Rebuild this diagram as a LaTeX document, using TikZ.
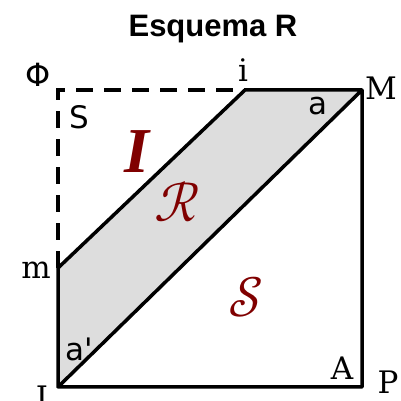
\documentclass[tikz,border=0pt]{standalone}
\usepackage{fontspec}
\setmainfont{DejaVu Serif}
\newfontfamily\ttlfont{Liberation Sans}
\newfontfamily\lblsans{DejaVu Sans}
\newfontfamily\timesfont{Liberation Serif}
\usepackage{unicode-math}
\setmathfont{Latin Modern Math}
\definecolor{darkred}{HTML}{800000}
\definecolor{fillgray}{HTML}{DDDDDD}
\tikzset{
  edge/.style={line width=3.5pt, line cap=round, line join=round},
  dash edge/.style={line width=3.5pt, dash pattern=on 17pt off 11pt},
  lbl/.style={inner sep=0pt, font=\fontsize{31}{34}\selectfont},
  slbl/.style={inner sep=0pt, font=\lblsans\fontsize{31}{34}\selectfont},
  big/.style={inner sep=0pt, text=darkred},
}
\begin{document}
\begin{tikzpicture}[x=1pt,y=1pt]
\useasboundingbox (0,0) rectangle (400,401);
\coordinate (I) at (58,14);
\coordinate (P) at (362,14);
\coordinate (M) at (362,311);
\coordinate (i) at (245,311);
\coordinate (m) at (58,133);
\coordinate (Phi) at (58,311);
\fill[fillgray] (m) -- (i) -- (M) -- (I) -- cycle;
\draw[dash edge] (m) -- (Phi) -- (i);
\draw[edge] (I) -- (m) -- (i) -- (M) -- (P) -- (I) -- (M);
\node[font=\ttlfont\bfseries\fontsize{31}{34}\selectfont, inner sep=0pt, anchor=base] (title) at (213,364) {Esquema R};
\node[slbl, font=\lblsans\fontsize{32}{34}\selectfont] (lphi) at (38,326) {Φ};
\node[slbl] (lS) at (79,284) {S};
\node[lbl] (li) at (243,331) {i};
\node[lbl] (lM) at (381,313) {M};
\node[slbl] (la) at (318,295) {a};
\node[big, font=\timesfont\fontsize{64}{68}\selectfont\bfseries\itshape] (lI) at (137,249) {I};
\node[big, font=\fontsize{56}{60}\selectfont] (lR) at (177,199) {$\mathcal{R}$};
\node[lbl] (lm) at (36,131) {m};
\node[big, font=\fontsize{56}{60}\selectfont] (lSc) at (246,104) {$\mathcal{S}$};
\node[slbl] (lap) at (79,52) {a'};
\node[lbl] (lA) at (342,33) {A};
\node[lbl] (lP) at (388,19) {P};
\node[lbl] (lIl) at (42,4) {I};
\end{tikzpicture}
\end{document}
